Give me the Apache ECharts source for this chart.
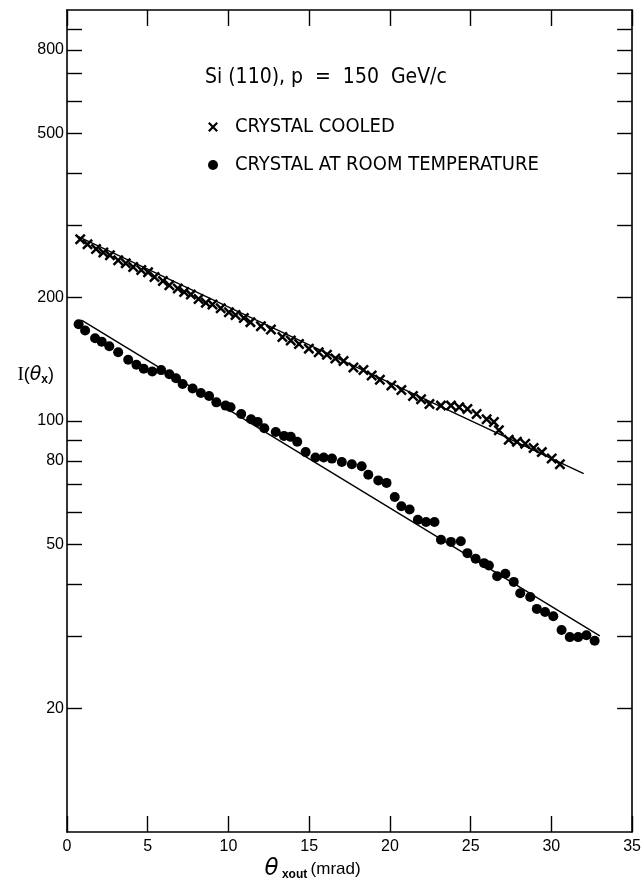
<!DOCTYPE html>
<html><head><meta charset="utf-8">
<style>html,body{margin:0;padding:0;background:#fff}#c{width:644px;height:888px}</style>
<script src="https://cdn.jsdelivr.net/npm/echarts@6.0.0/dist/echarts.min.js"></script>
</head><body><div id="c"></div>
<script>
// ---- data ----
const cooledX = [0.82,1.27,1.80,2.25,2.66,3.17,3.64,4.10,4.60,5.02,5.42,5.94,6.34,6.86,7.26,7.67,8.15,8.60,9.01,9.52,10.03,10.44,10.95,11.36,12.01,12.63,13.34,13.86,14.37,14.98,15.59,16.10,16.62,17.13,17.74,18.36,18.87,19.38,20.09,20.71,21.43,21.93,22.45,23.16,23.78,24.29,24.80,25.37,25.99,26.44,26.75,27.36,27.87,28.38,28.90,29.41,30.02,30.53];
const cooledY = [277,269,262,257,253,246,242,237,233,230,224,219,214,210,206,203,198,194,192,188,184,181,178,174,170,167,160,157,154,150,147,145,142,140,135,133,129,126,122,119,115,113,110,109,109,108,107,104,101,99.5,95,90,89,88,86,84,81,78.5];
const roomX = [0.72,1.12,1.74,2.15,2.62,3.17,3.79,4.30,4.75,5.28,5.83,6.34,6.75,7.16,7.78,8.29,8.80,9.25,9.82,10.13,10.79,11.40,11.81,12.22,12.93,13.44,13.86,14.26,14.78,15.39,15.90,16.41,17.02,17.64,18.25,18.66,19.28,19.79,20.30,20.71,21.22,21.73,22.24,22.76,23.16,23.78,24.39,24.80,25.31,25.83,26.13,26.64,27.15,27.67,28.07,28.69,29.10,29.61,30.12,30.63,31.14,31.66,32.17,32.68];
const roomY = [172,166,159,156,152,147,141,137,134,132,133,130,127,123,120,117,115,111,109,108,104,101,99.5,96,94,92,91.5,89,84,81.5,81.5,81,79.5,78.5,77.6,74,71.7,70.7,65.3,62,60.9,57.5,56.8,56.8,51.4,50.8,51,47.7,46.2,45.1,44.5,41.9,42.5,40.6,38.1,37.3,34.9,34.3,33.5,31,29.8,29.8,30.1,29.2];
const fitCooledX = [0.7, 32.0];
const fitCooledY = [281, 74.5];
const fitRoomX = [0.9, 33.0];
const fitRoomY = [176, 30];
const yLabelValues = [20,50,80,100,200,500,800];
const yTickValues = [20,30,40,50,60,70,80,90,100,200,300,400,500,600,700,800,900];
const titleText = 'Si (110), p  =  150  GeV/c';
const legendNames = ['CRYSTAL COOLED','CRYSTAL AT ROOM TEMPERATURE'];

// ---- chart ----
const zip = (a,b) => a.map((v,i)=>[v,b[i]]);
const CROSS = 'path://M0,1.6L1.6,0L10,8.4L8.4,10Z M8.4,0L10,1.6L1.6,10L0,8.4Z';
const NARROW = '"Liberation Sans Narrow","DejaVu Sans Condensed","Liberation Sans",sans-serif';
const LAB = '"Liberation Sans",sans-serif';
const axisLine = {show:true, onZero:false, lineStyle:{color:'#000', width:1.6}};

function yAxis(pos, showLabels){
  return {
    type:'log', logBase:10, min:10, max:1000, position:pos,
    axisLine: axisLine,
    axisTick:{show:true, inside:true, length:15, customValues:yTickValues, lineStyle:{color:'#000', width:1.4}},
    minorTick:{show:false},
    axisLabel:{show:showLabels, customValues:yLabelValues, fontSize:16, color:'#000', margin:3, fontFamily:LAB,
      formatter: v => String(Math.round(v))},
    splitLine:{show:false}
  };
}
function xAxis(pos, showLabels){
  return {
    type:'value', min:0, max:35, interval:5, position:pos,
    axisLine: axisLine,
    axisTick:{show:true, inside:true, length:16, lineStyle:{color:'#000', width:1.4}},
    axisLabel:{show:showLabels, fontSize:16, color:'#000', margin:7, fontFamily:LAB},
    splitLine:{show:false}
  };
}

const xMain = xAxis('bottom', true);
xMain.name = '{t|θ} {s|xout} {n|(mrad)}';
xMain.nameLocation = 'middle';
xMain.nameGap = 25;
xMain.nameMoveOverlap = false;
xMain.nameTextStyle = {color:'#000', padding:[0,74,0,0], rich:{
  t:{fontSize:23, fontStyle:'italic', fontFamily:'"DejaVu Sans",sans-serif', color:'#000'},
  s:{fontSize:12, fontWeight:'bold', fontFamily:LAB, color:'#000', padding:[12,0,0,0]},
  n:{fontSize:17, fontFamily:LAB, color:'#000'}
}};
const yMain = yAxis('left', true);
yMain.name = '{i|I}{p|(}{t|θ}{s|x}{p|)}';
yMain.nameLocation = 'middle';
yMain.nameRotate = 0;
yMain.nameGap = 13;
yMain.nameMoveOverlap = false;
yMain.nameTextStyle = {color:'#000', padding:[0,0,92,0], rich:{
  i:{fontSize:19, fontFamily:'"Liberation Serif",serif', color:'#000'},
  p:{fontSize:18, fontFamily:LAB, color:'#000'},
  t:{fontSize:19, fontStyle:'italic', fontFamily:'"DejaVu Sans",sans-serif', color:'#000'},
  s:{fontSize:12, fontWeight:'bold', fontFamily:LAB, color:'#000', padding:[9,0,0,0]}
}};

const chart = echarts.init(document.getElementById('c'), null, {renderer:'canvas'});
chart.setOption({
  animation:false,
  backgroundColor:'#fff',
  grid:{left:67, right:6, top:10, bottom:56, containLabel:false},
  title:{text:titleText, left:205, top:67, padding:0,
    textStyle:{fontSize:21, fontWeight:'normal', color:'#000', fontFamily:NARROW}},
  legend:{orient:'vertical', left:208, top:117, padding:0, itemWidth:34, itemHeight:10, itemGap:18,
    selectedMode:false,
    data:[{name:legendNames[0], icon:CROSS},{name:legendNames[1], icon:'circle'}],
    textStyle:{fontSize:20, color:'#000', fontFamily:NARROW}},
  xAxis:[xMain, xAxis('top', false)],
  yAxis:[yMain, yAxis('right', false)],
  series:[
    {type:'line', data:zip(fitCooledX, fitCooledY), symbol:'none', silent:true, z:1,
      lineStyle:{color:'#000', width:1.4}},
    {type:'line', data:zip(fitRoomX, fitRoomY), symbol:'none', silent:true, z:1,
      lineStyle:{color:'#000', width:1.4}},
    {type:'scatter', name:legendNames[0], data:zip(cooledX, cooledY), symbol:CROSS, symbolSize:11, z:3,
      itemStyle:{color:'#000', opacity:1}},
    {type:'scatter', name:legendNames[1], data:zip(roomX, roomY), symbol:'circle', symbolSize:10, z:3,
      itemStyle:{color:'#000', opacity:1}}
  ]
});
</script>
</body></html>
